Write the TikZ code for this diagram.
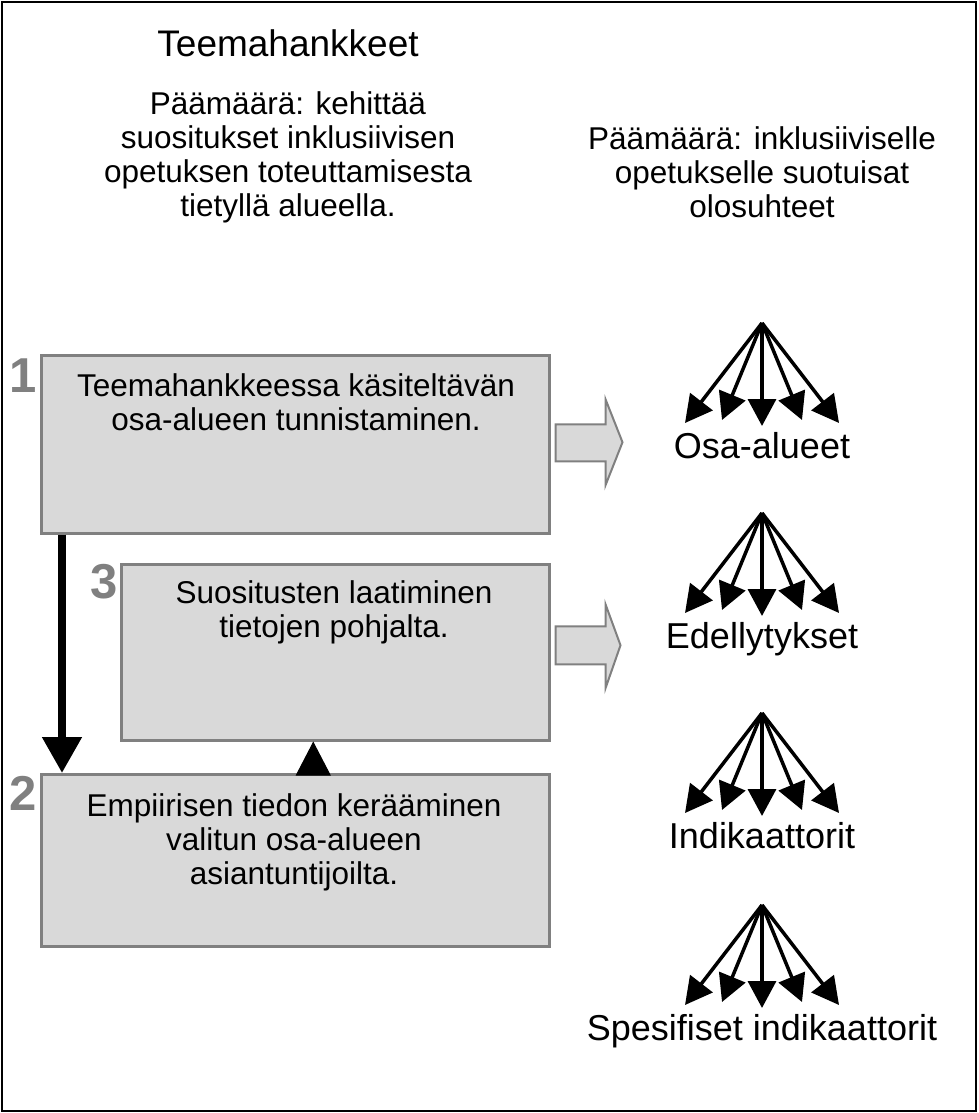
\documentclass[tikz,border=0pt]{standalone}
\usepackage{fontspec}
\setmainfont{Liberation Sans}
\usetikzlibrary{arrows.meta}
\definecolor{boxfill}{HTML}{D9D9D9}
\definecolor{boxline}{HTML}{808080}
\definecolor{numgray}{HTML}{808080}
\begin{document}
\begin{tikzpicture}[x=1pt,y=-1pt,
  box/.style={draw=boxline, fill=boxfill, line width=2.5pt, inner sep=0pt, anchor=north west},
  bodytext/.style={font=\fontsize{31.5}{34}\selectfont, align=center, inner sep=0pt, anchor=base},
  titletext/.style={font=\fontsize{37}{40}\selectfont, inner sep=0pt, anchor=base},
  numlabel/.style={font=\bfseries\fontsize{49}{49}\selectfont, text=numgray, inner sep=0pt, anchor=base east},
  fanarrow/.style={line width=3.5pt, -{Triangle[length=27pt,width=28pt]}},
  fanlabel/.style={font=\fontsize{36}{40}\selectfont, inner sep=0pt, anchor=base},
  blockarrow/.style={draw=boxline, fill=boxfill, line width=2pt, line join=miter},
  bigarrow/.style={line width=8pt, -{Triangle[length=36pt,width=38pt]}},
  smallarrow/.style={line width=1pt, -{Triangle[length=34pt,width=35pt]}}
]
\useasboundingbox (0,0) rectangle (978,1113);
\draw[line width=2pt] (2,2) rectangle (976,1111);

% titles (anchor = baseline of the last line)
\node[titletext] (title) at (288,57) {Teemahankkeet};
\node[bodytext] (goalL) at (288,216) {Päämäärä: kehittää\\suositukset inklusiivisen\\opetuksen toteuttamisesta\\tietyllä alueella.};
\node[bodytext] (goalR) at (762,217) {Päämäärä: inklusiiviselle\\opetukselle suotuisat\\olosuhteet};

% boxes
\node[box, minimum width=508pt, minimum height=178pt] (b1) at (40,354) {};
\node[box, minimum width=428pt, minimum height=176pt] (b3) at (120,563) {};
\node[box, minimum width=508pt, minimum height=172pt] (b2) at (40,773) {};

\node[bodytext] (t1) at (296,430) {Teemahankkeessa käsiteltävän\\osa-alueen tunnistaminen.};
\node[bodytext] (t3) at (334,637) {Suositusten laatiminen\\tietojen pohjalta.};
\node[bodytext] (t2) at (294,884) {Empiirisen tiedon kerääminen\\valitun osa-alueen\\asiantuntijoilta.};

\node[numlabel] (n1) at (37,392) {1};
\node[numlabel] (n3) at (118,598) {3};
\node[numlabel] (n2) at (37,810) {2};

% block arrows
\draw[blockarrow, shift={(b1.east)}] (5,-20) -- (55,-20) -- (55,-45) -- (72,-2) -- (55,41) -- (55,17) -- (5,17) -- cycle;
\draw[blockarrow, shift={(b3.east)}] (5,-26) -- (55,-26) -- (55,-48) -- (70,-7) -- (55,36) -- (55,12) -- (5,12) -- cycle;

% flow arrows
\draw[bigarrow] ([xshift=22pt]b1.south west) -- ([xshift=22pt]b2.north west);
\coordinate (up) at ([xshift=18pt]b2.north);
\draw[smallarrow] (up) -- (up |- b3.south);

% fans
\foreach \ay/\lab/\n in {323/Osa-alueet/fa, 513/Edellytykset/fb, 713/Indikaattorit/fc, 905/{Spesifiset indikaattorit}/fd} {
  \coordinate (\n) at (762,\ay);
  \foreach \dx/\dy in {-77/100,-40/97,0/103,40/97,77/100}
    \draw[fanarrow] (\n) -- ++(\dx,\dy);
  \node[fanlabel] (\n-lab) at (762,{\ay+135}) {\lab};
}
\end{tikzpicture}
\end{document}
